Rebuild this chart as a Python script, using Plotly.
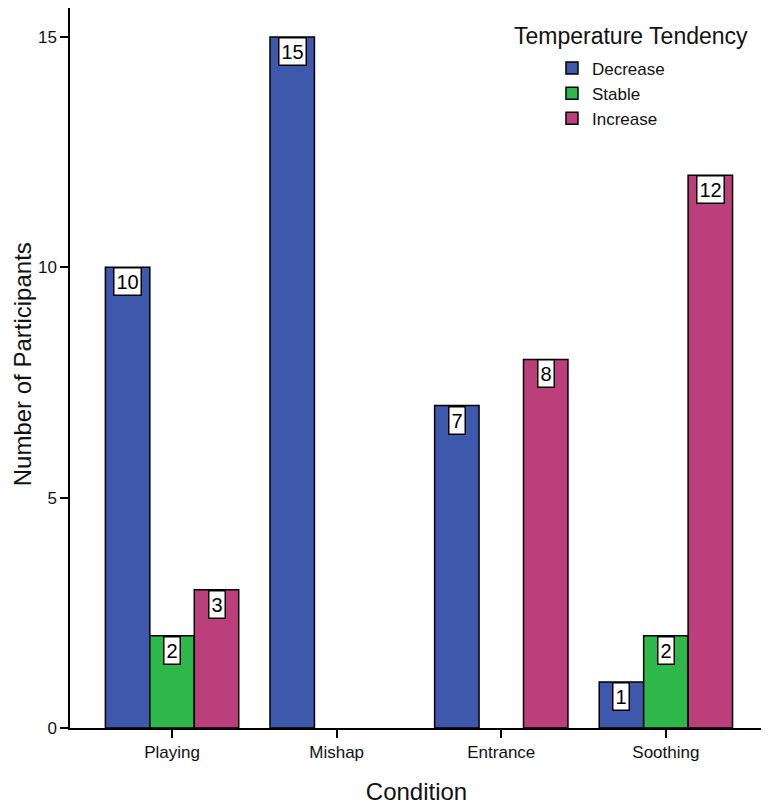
import plotly.graph_objects as go

# data
conditions = ["Playing", "Mishap", "Entrance", "Soothing"]
series_names = ["Decrease", "Stable", "Increase"]
decrease = [10, 15, 7, 1]
stable = [2, None, None, 2]
increase = [3, None, 8, 12]
series_values = [decrease, stable, increase]
colors = ["#3E58AC", "#2EB84A", "#BB3F7B"]

bargap = 0.19
bar_w = (1 - bargap) / len(series_names)
xpos = list(range(len(conditions)))

fig = go.Figure()
for name, vals, col in zip(series_names, series_values, colors):
    fig.add_trace(go.Bar(
        x=xpos, y=vals, name=name,
        marker=dict(color=col, line=dict(color="black", width=1.5)),
    ))

# white boxed value labels at the top of each bar
for k, vals in enumerate(series_values):
    for i, v in enumerate(vals):
        if v is None:
            continue
        fig.add_annotation(
            x=i + (k - 1) * bar_w, y=v, text=str(v),
            xanchor="center", yanchor="top", showarrow=False,
            font=dict(size=20, color="black"),
            bgcolor="white", bordercolor="black", borderwidth=1.5, borderpad=2,
        )

fig.add_annotation(
    text="Temperature Tendency", xref="paper", yref="paper",
    x=0.981, y=0.961, xanchor="right", yanchor="middle", showarrow=False,
    font=dict(size=23, color="#111"),
)
# y axis title as annotation so it sits further left
fig.add_annotation(
    text="Number of Participants", xref="paper", yref="paper",
    x=-0.068, y=0.505, xanchor="center", yanchor="middle", showarrow=False,
    textangle=-90, font=dict(size=24, color="#111"),
)

# page body adds an 8px offset, margins compensate for it
fig.update_layout(
    width=769, height=806,
    margin=dict(l=62, r=14, t=0, b=86),
    plot_bgcolor="white", paper_bgcolor="white",
    font=dict(family="Liberation Sans, Arial, sans-serif", color="#111"),
    barmode="group", bargap=bargap, bargroupgap=0,
    showlegend=True,
    legend=dict(
        x=0.6955, y=0.941, xanchor="left", yanchor="top",
        font=dict(size=17), tracegroupgap=0, itemwidth=30,
        bgcolor="rgba(0,0,0,0)",
    ),
)
fig.update_xaxes(
    range=[-0.62, 3.59], tickvals=xpos, ticktext=conditions,
    showline=True, linecolor="black", linewidth=1.5,
    ticks="outside", ticklen=8, tickcolor="black", tickwidth=1.5,
    tickfont=dict(size=17), showgrid=False, zeroline=False, automargin=False,
    title=dict(text="Condition", font=dict(size=24), standoff=22),
)
fig.update_yaxes(
    range=[0, 15.63], tickvals=[0, 5, 10, 15],
    showline=True, linecolor="black", linewidth=1.5,
    ticks="outside", ticklen=8, tickcolor="black", tickwidth=1.5,
    tickfont=dict(size=17), showgrid=False, zeroline=False, automargin=False,
)

fig.write_html("out.html")
